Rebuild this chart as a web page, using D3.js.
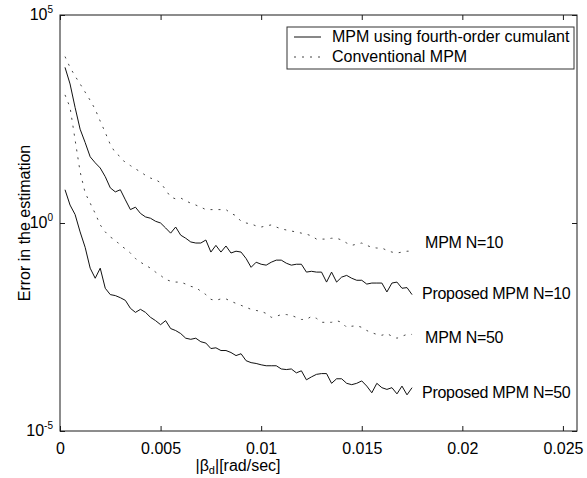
<!DOCTYPE html>
<html>
<head>
<meta charset="utf-8">
<script src="https://cdn.jsdelivr.net/npm/d3@7"></script>
<style>
  body { margin: 0; background: #fff; }
  svg { font-family: "Liberation Sans", Arial, sans-serif; }
</style>
</head>
<body>
<svg id="chart" width="587" height="478"></svg>
<script>
// sample grid of |beta_d| in rad/sec, one value every 0.00025
var beta = d3.range(1, 71).map(function (k) { return k * 0.00025; });

// Conventional MPM, N=10 (dotted, upper)
var mpmN10 = [1.0e4, 5.5e3, 3.4e3, 2.2e3, 1.4e3, 8.9e2, 5.4e2, 2.8e2, 1.5e2, 77,
  49, 39, 28, 24, 20, 17, 14, 12, 11, 9.3,
  6.3, 4.2, 3.8, 4.0, 3.4, 3.0, 2.7, 2.4, 2.1, 2.1,
  2.1, 2.1, 2.1, 1.7, 1.5, 1.1, 1.0, 0.95, 0.85, 0.80,
  0.85, 0.90, 0.80, 0.72, 0.68, 0.64, 0.61, 0.57, 0.54, 0.49,
  0.41, 0.41, 0.41, 0.43, 0.43, 0.39, 0.33, 0.29, 0.31, 0.33,
  0.29, 0.26, 0.25, 0.25, 0.22, 0.20, 0.19, 0.20, 0.21, 0.21];

// Proposed MPM (fourth-order cumulant), N=10
var propN10 = [5.5e3, 2.2e3, 6.0e2, 1.8e2, 86, 39, 28, 21, 13, 7.0,
  5.6, 6.3, 3.6, 2.1, 2.4, 1.7, 1.4, 1.3, 1.1, 1.0,
  0.76, 0.57, 0.80, 0.51, 0.43, 0.35, 0.33, 0.33, 0.39, 0.20,
  0.29, 0.20, 0.28, 0.19, 0.21, 0.20, 0.14, 0.086, 0.114, 0.102,
  0.097, 0.114, 0.128, 0.128, 0.108, 0.097, 0.102, 0.102, 0.066, 0.069,
  0.066, 0.066, 0.038, 0.066, 0.038, 0.050, 0.055, 0.047, 0.042, 0.042,
  0.034, 0.036, 0.036, 0.036, 0.022, 0.036, 0.038, 0.027, 0.028, 0.019];

// Conventional MPM, N=50
var mpmN50 = [1.2e3, 6.0e2, 1.0e2, 17, 5.3, 3.0, 1.7, 0.90, 0.61, 0.46,
  0.39, 0.29, 0.24, 0.19, 0.14, 0.114, 0.097, 0.082, 0.066, 0.055,
  0.044, 0.040, 0.038, 0.038, 0.034, 0.030, 0.028, 0.023, 0.019, 0.0146,
  0.0138, 0.015, 0.015, 0.0131, 0.0117, 0.0105, 0.0094, 0.0084, 0.0079, 0.0075,
  0.0067, 0.0054, 0.0057, 0.0063, 0.0063, 0.0060, 0.0054, 0.0048, 0.0048, 0.0057,
  0.0051, 0.0041, 0.0041, 0.0041, 0.0045, 0.0041, 0.0031, 0.0033, 0.0034, 0.0031,
  0.0026, 0.0023, 0.0021, 0.0020, 0.0022, 0.0019, 0.0017, 0.0019, 0.0021, 0.0021];

// Proposed MPM (fourth-order cumulant), N=50
var propN50 = [6.3, 2.7, 1.6, 0.61, 0.26, 0.082, 0.047, 0.082, 0.027, 0.019,
  0.018, 0.016, 0.0138, 0.0089, 0.0071, 0.0084, 0.0071, 0.0054, 0.0045, 0.0036,
  0.0045, 0.0029, 0.0026, 0.0022, 0.0017, 0.0016, 0.0017, 0.0014, 0.0013, 0.00096,
  0.0010, 0.00086, 0.00086, 0.00077, 0.00065, 0.00072, 0.00049, 0.00044, 0.00042, 0.00039,
  0.00037, 0.00037, 0.00037, 0.00031, 0.00030, 0.00031, 0.00025, 0.00028, 0.00017, 0.00020,
  0.00023, 0.00024, 0.00024, 0.00014, 0.00018, 0.00018, 0.00014, 0.00013, 0.00014, 0.00016,
  0.00012, 0.000083, 0.00014, 0.00011, 0.00010, 0.00011, 0.000078, 0.00012, 0.000074, 0.00011];

var xTicks = [0, 0.005, 0.01, 0.015, 0.02, 0.025];
var xTickLabels = ["0", "0.005", "0.01", "0.015", "0.02", "0.025"];
var yTicks = [1e5, 1e0, 1e-5];
var yTickExp = ["5", "0", "-5"];

var legendLabels = ["MPM using fourth-order cumulant", "Conventional MPM"];
var curveLabels = ["MPM N=10", "Proposed MPM N=10", "MPM N=50", "Proposed MPM N=50"];
var labelBeta = [0.01815, 0.0180, 0.01815, 0.0180];
var labelErr = [0.25, 0.0146, 0.0013, 6.2e-5];

// note: "top" is taken by window.top, so the box edges get their own names
var boxL = 60, boxR = 577, boxT = 15, boxB = 431;
var FONT = 16;

var svg = d3.select("#chart");

var x = d3.scaleLinear().domain([0, 0.0257]).range([boxL, boxR]);
var y = d3.scaleLog().domain([1e-5, 1e5]).range([boxB, boxT]);

// axes box, MATLAB style with ticks inside
var axisColor = "#1a1a1a";
svg.append("g")
  .attr("transform", "translate(0," + boxB + ")")
  .call(d3.axisBottom(x).tickValues(xTicks).tickSize(-5).tickPadding(12)
    .tickFormat(function (d, i) { return xTickLabels[i]; }))
  .call(function (g) {
    g.select(".domain").remove();
    g.selectAll("line").attr("stroke", axisColor);
    g.selectAll("text").attr("font-size", FONT).attr("fill", "#000");
    g.attr("font-family", null).attr("font-size", null);
  });
svg.append("g")
  .attr("transform", "translate(0," + boxT + ")")
  .call(d3.axisTop(x).tickValues(xTicks).tickSize(-5).tickFormat(""))
  .call(function (g) {
    g.select(".domain").remove();
    g.selectAll("line").attr("stroke", axisColor);
  });
svg.append("g")
  .attr("transform", "translate(" + boxL + ",0)")
  .call(d3.axisLeft(y).tickValues(yTicks).tickSize(-5).tickFormat(""))
  .call(function (g) {
    g.select(".domain").remove();
    g.selectAll("line").attr("stroke", axisColor);
  });
svg.append("g")
  .attr("transform", "translate(" + boxR + ",0)")
  .call(d3.axisRight(y).tickValues(yTicks).tickSize(-5).tickFormat(""))
  .call(function (g) {
    g.select(".domain").remove();
    g.selectAll("line").attr("stroke", axisColor);
  });

svg.append("rect")
  .attr("x", boxL).attr("y", boxT)
  .attr("width", boxR - boxL).attr("height", boxB - boxT)
  .attr("fill", "none").attr("stroke", axisColor).attr("stroke-width", 1);

// y tick labels 10^n
var yLab = svg.append("g").selectAll("text").data(yTicks).enter().append("text")
  .attr("x", 53)
  .attr("y", function (d) { return y(d) + 5; })
  .attr("text-anchor", "end")
  .attr("font-size", FONT);
yLab.append("tspan").text("10");
yLab.append("tspan")
  .attr("dy", -7)
  .attr("font-size", 10)
  .text(function (d, i) { return yTickExp[i]; });

// axis titles
var xTitle = svg.append("text")
  .attr("x", 238).attr("y", 471)
  .attr("text-anchor", "middle")
  .attr("font-size", FONT);
xTitle.append("tspan").text("|\u03B2");
xTitle.append("tspan").attr("dy", 3).attr("font-size", 11).text("d");
xTitle.append("tspan").attr("dy", -3).text("|[rad/sec]");

svg.append("text")
  .attr("transform", "translate(30," + (boxT + boxB) / 2 + ") rotate(-90)")
  .attr("text-anchor", "middle")
  .attr("font-size", FONT)
  .text("Error in the estimation");

// curves
var line = d3.line()
  .x(function (d) { return x(d[0]); })
  .y(function (d) { return y(d[1]); });

var series = [
  { values: mpmN10, dotted: true },
  { values: propN10, dotted: false },
  { values: mpmN50, dotted: true },
  { values: propN50, dotted: false }
];

svg.append("g").selectAll("path").data(series).enter().append("path")
  .attr("d", function (s) {
    return line(beta.map(function (b, i) { return [b, s.values[i]]; }));
  })
  .attr("fill", "none")
  .attr("stroke", function (s) { return s.dotted ? "#444" : "#111"; })
  .attr("stroke-width", 1)
  .attr("stroke-dasharray", function (s) { return s.dotted ? "2,6" : null; });

// curve labels
svg.append("g").selectAll("text").data(curveLabels).enter().append("text")
  .attr("x", function (d, i) { return x(labelBeta[i]); })
  .attr("y", function (d, i) { return y(labelErr[i]); })
  .attr("font-size", FONT)
  .attr("letter-spacing", -0.3)
  .text(function (d) { return d; });

// legend
var legend = svg.append("g");
legend.append("rect")
  .attr("x", 287).attr("y", 27).attr("width", 287).attr("height", 42)
  .attr("fill", "#fff").attr("stroke", "#333").attr("stroke-width", 1);
var entries = legend.selectAll("g.entry").data(legendLabels).enter().append("g")
  .attr("class", "entry")
  .attr("transform", function (d, i) { return "translate(0," + (37 + i * 20) + ")"; });
entries.append("line")
  .attr("x1", 294).attr("x2", 321)
  .attr("stroke", function (d, i) { return i ? "#444" : "#111"; })
  .attr("stroke-dasharray", function (d, i) { return i ? "2,6" : null; });
entries.append("text")
  .attr("x", 332).attr("y", 5)
  .attr("font-size", FONT)
  .text(function (d) { return d; });
</script>
</body>
</html>
